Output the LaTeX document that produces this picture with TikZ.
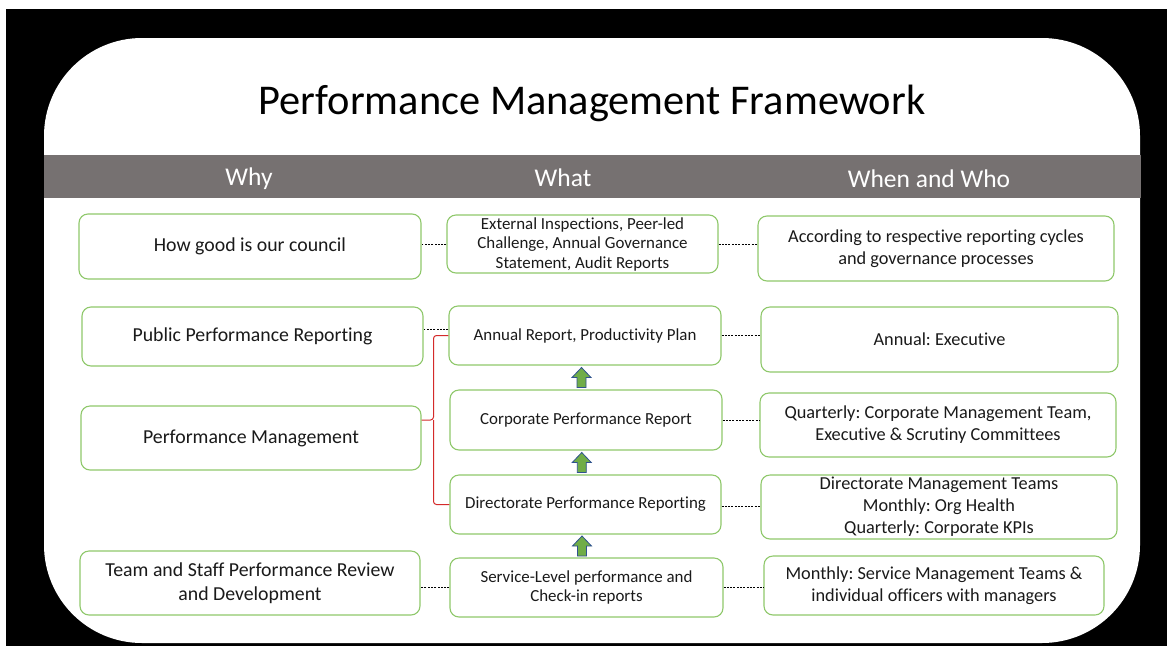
\documentclass[tikz,border=0pt]{standalone}
\usepackage{fontspec}
\setmainfont{Carlito}[Ligatures=NoCommon]
\frenchspacing
\usetikzlibrary{calc}
\definecolor{bandgray}{HTML}{767171}
\definecolor{boxgreen}{HTML}{8FC86B}
\definecolor{arrowgreen}{HTML}{70AD47}
\definecolor{arrowedge}{HTML}{2F528F}
\definecolor{bracered}{HTML}{D42A2A}
\definecolor{inktext}{HTML}{1A1A1A}

\begin{document}
\begin{tikzpicture}[x=1pt,y=-1pt,
  box/.style={draw=boxgreen, line width=1.1pt, rounded corners=9pt, fill=white,
    align=center, text=inktext, inner sep=0pt},
  whybox/.style={box, font=\fontsize{19.8}{24}\selectfont},
  whatbox/.style={box, font=\fontsize{16.9}{19.5}\selectfont},
  whobox/.style={box, font=\fontsize{18.3}{22}\selectfont},
  link/.style={line width=0.7pt, dash pattern=on 2pt off 1.3pt},
  brace/.style={draw=bracered, line width=1pt, rounded corners=3pt},
  colhead/.style={text=white, anchor=base, font=\fontsize{25.5}{30}\selectfont},
  uparrow/.pic={\draw[fill=arrowgreen, draw=arrowedge, line width=0.8pt]
    (-4.5,10) -- (-4.5,0) -- (-9.5,0) -- (0,-10) -- (9.5,0) -- (4.5,0) -- (4.5,10) -- cycle;}
]
\useasboundingbox (0,0) rectangle (1167,646);

% frame and panel
\fill[white] (0,0) rectangle (1167,646);
\fill[black] (6,9) rectangle (1167,646);
\fill[white, rounded corners=98pt] (44,38) rectangle (1140,643);

% title and column headings
\node[font=\fontsize{42.4}{48}\selectfont, text=black, anchor=base] (title) at (592,114) {Performance Management Framework};
\fill[bandgray] (44,155) rectangle (1141,198);
\node[colhead] (hwhy)  at (249,185) {Why};
\node[colhead] (hwhat) at (563,186) {What};
\node[colhead] (hwho)  at (929,187) {When and Who};

% why column
\node[whybox, minimum width=342pt, minimum height=65pt] (hg)  at (250,246.5) {How good is our council};
\node[whybox, minimum width=341pt, minimum height=59pt] (ppr) at (252.5,336.5) {Public Performance Reporting};
\node[whybox, minimum width=340pt, minimum height=64pt] (pm)  at (251,438) {Performance Management};
\node[whybox, minimum width=340pt, minimum height=64pt] (tsp) at (250,583) {Team and Staff Performance Review\\and Development};

% what column
\node[whatbox, minimum width=271pt, minimum height=58pt] (ext) at (582.5,244) {External Inspections, Peer-led\\Challenge, Annual Governance\\Statement, Audit Reports};
\node[whatbox, minimum width=272pt, minimum height=59pt] (arp) at (585,335.5) {Annual Report, Productivity Plan};
\node[whatbox, minimum width=272pt, minimum height=60pt] (cpr) at (586,420) {Corporate Performance Report};
\node[whatbox, minimum width=271pt, minimum height=59pt] (dpr) at (585.5,504.5) {Directorate Performance Reporting};
\node[whatbox, minimum width=273pt, minimum height=59pt] (slp) at (586.5,587.5) {Service-Level performance and\\Check-in reports};

% when and who column
\node[whobox, minimum width=356pt, minimum height=65pt] (acc) at (936,248.5) {According to respective reporting cycles\\and governance processes};
\node[whobox, minimum width=357pt, minimum height=65pt] (ann) at (939.5,339.5) {Annual: Executive};
\node[whobox, minimum width=356pt, minimum height=64pt] (qtr) at (938,425) {Quarterly: Corporate Management Team,\\Executive \& Scrutiny Committees};
\node[whobox, minimum width=356pt, minimum height=64pt] (dmt) at (939,507) {Directorate Management Teams\\Monthly: Org Health\\Quarterly: Corporate KPIs};
\node[whobox, minimum width=340pt, minimum height=59pt] (mon) at (934,585.5) {Monthly: Service Management Teams \&\\individual officers with managers};

% dashed links between columns
\draw[link] (ext.west) -- (ext.west -| hg.east);
\draw[link] (ext.east) -- (ext.east -| acc.west);
\draw[link] ([yshift=6pt]arp.west) -- ([yshift=6pt]arp.west -| ppr.east);
\draw[link] (arp.east) -- (arp.east -| ann.west);
\draw[link] (cpr.east) -- (cpr.east -| qtr.west);
\draw[link] ([yshift=-2pt]dpr.east) -- ([yshift=-2pt]dpr.east -| dmt.west);
\draw[link] (slp.west) -- (slp.west -| tsp.east);
\draw[link] (slp.east) -- (slp.east -| mon.west);

% brace grouping the reports under performance management
\coordinate (btip) at (433.5,420);
\draw[brace] (arp.west) -| (btip) -- (btip -| pm.east);
\draw[brace] (dpr.west) -| (btip);

% upward flow arrows
\pic at ($(arp.south)!0.5!(cpr.north)+(-4,0)$) {uparrow};
\pic at ($(cpr.south)!0.5!(dpr.north)+(-4,0)$) {uparrow};
\pic at ($(dpr.south)!0.5!(slp.north)+(-4,0)$) {uparrow};
\end{tikzpicture}
\end{document}
